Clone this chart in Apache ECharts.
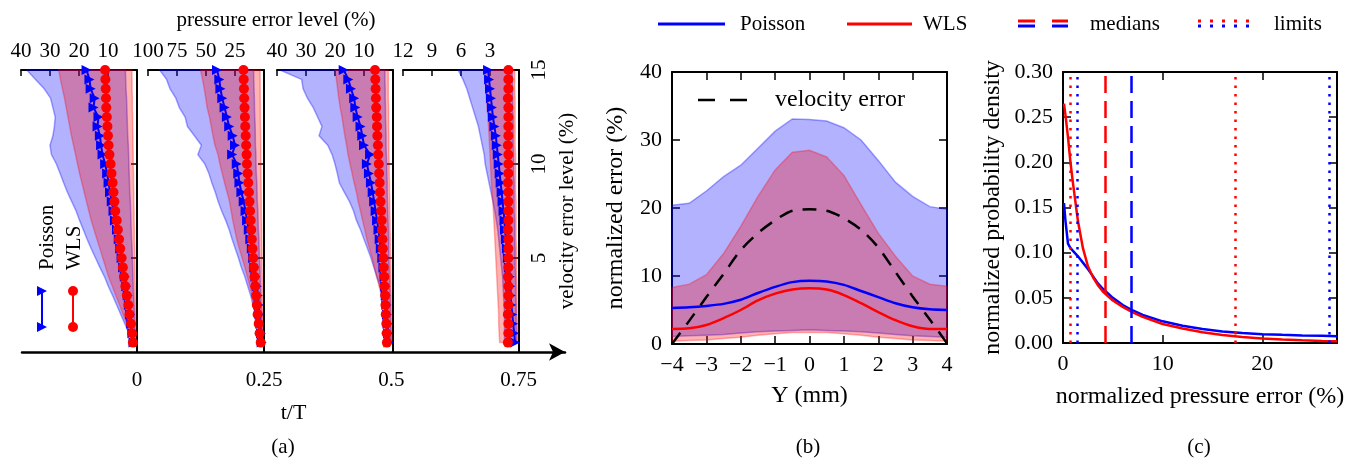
<!DOCTYPE html>
<html><head><meta charset="utf-8">
<script src="https://cdn.jsdelivr.net/npm/echarts@6/dist/echarts.min.js"></script>
<style>html,body{margin:0;padding:0;background:#fff}#chart{width:1365px;height:462px}</style>
</head><body><div id="chart"></div>
<script>
// ---------------- DATA ----------------
// panel (a): velocity error levels (%)
const velLevels = [0.5,1,1.5,2,2.5,3,3.5,4,4.5,5,5.5,6,6.5,7,7.5,8,8.5,9,9.5,10,10.5,11,11.5,12,12.5,13,13.5,14,14.5,15];
const tTicks = [0, 0.25, 0.5, 0.75];
const velTicks = [5, 10, 15];
const pressureMax = [40, 100, 40, 12];
const pressureStep = [10, 25, 10, 3];

// t/T = 0
const a1PoissonHigh = [1.3,2.8,4.2,5.6,7.0,8.4,9.9,11.2,12.8,14.3,15.8,17.2,18.5,19.8,21.0,22.5,24.0,25.3,26.5,27.8,29.5,30.0,29.0,28.5,28.2,29.0,29.8,32.0,35.0,38.0];
const a1PoissonLow  = [0.6,0.7,0.8,0.9,1.0,1.2,1.3,1.4,1.5,1.6,1.7,1.9,2.0,2.1,2.2,2.3,2.5,2.6,2.7,2.8,2.9,3.0,3.2,3.3,3.4,3.5,3.6,3.8,3.9,4.0];
const a1WlsHigh     = [1.3,2.5,3.6,4.8,6.0,7.3,8.5,9.8,10.8,11.8,12.8,13.8,14.8,15.8,16.6,17.4,18.2,19.0,19.8,20.5,21.2,21.9,22.6,23.2,23.8,24.4,25.0,25.7,26.4,27.0];
const a1WlsLow      = [0.3,0.4,0.4,0.5,0.5,0.6,0.6,0.7,0.7,0.8,0.8,0.9,0.9,1.0,1.0,1.1,1.1,1.2,1.2,1.3,1.3,1.4,1.4,1.5,1.5,1.6,1.6,1.7,1.7,1.8];
const a1PoissonMed  = [1.2,1.6,2.0,2.4,2.8,3.2,3.7,4.2,4.8,5.3,5.8,6.3,6.9,7.6,8.1,8.7,9.3,9.8,10.3,11.0,11.9,12.4,12.8,13.6,13.3,15.0,14.6,16.0,16.4,17.4];
const a1WlsMed      = [1.4,1.7,2.1,2.6,3.0,3.5,4.0,4.5,4.9,5.3,5.8,6.2,6.6,7.0,7.5,7.8,8.1,8.4,8.8,9.1,9.5,9.8,10.0,10.2,10.4,10.6,10.7,10.8,10.9,11.0];
// t/T = 0.25
const a2PoissonHigh = [2.0,3.5,5.5,7.5,9.5,11.5,14.0,16.5,19.5,22.0,24.8,27.5,30.0,33.0,36.5,39.5,42.0,45.0,47.5,51.0,57.0,54.0,60.0,66.0,68.0,73.0,76.0,81.0,84.0,90.0];
const a2PoissonLow  = [1.2,1.4,1.8,2.0,2.5,2.7,3.1,3.3,3.5,4.0,4.2,4.4,4.9,5.1,5.3,5.8,6.0,6.2,6.7,6.9,7.0,7.4,7.5,7.6,8.0,8.2,8.3,8.6,8.8,9.0];
const a2WlsHigh     = [2.2,3.7,5.5,6.8,8.5,10.2,12.2,14.3,16.5,18.8,21.3,23.4,25.2,26.9,28.3,29.7,31.8,34.0,36.0,38.0,39.6,42.3,44.0,45.5,47.0,49.0,50.2,51.5,53.0,54.7];
const a2WlsLow      = [0.8,0.9,1.1,1.1,1.2,1.4,1.4,1.5,1.7,1.7,1.8,2.0,2.0,2.1,2.3,2.3,2.4,2.5,2.6,2.7,2.8,2.8,2.9,3.0,3.1,3.1,3.2,3.3,3.3,3.4];
const a2PoissonMed  = [2.0,2.6,3.2,3.9,4.5,5.2,6.2,7.4,8.4,9.4,10.5,11.8,13.1,14.6,15.9,17.5,19.5,21.2,22.2,23.5,27.5,25.0,27.0,30.0,32.0,34.0,36.0,37.6,38.5,40.5];
const a2WlsMed      = [2.8,3.8,4.6,5.5,6.2,6.8,7.5,8.2,8.8,9.3,9.9,10.5,11.0,11.5,12.0,12.5,13.0,13.6,14.1,14.7,15.0,15.4,15.8,16.2,16.5,16.8,17.1,17.3,17.5,17.7];
// t/T = 0.5
const a3PoissonHigh = [1.0,1.4,1.9,2.5,3.0,3.6,4.5,5.6,6.6,7.6,8.8,10.0,11.2,12.6,13.6,15.0,16.8,18.5,19.2,20.0,21.0,22.5,25.5,24.5,26.0,27.5,29.5,31.0,31.5,39.0];
const a3PoissonLow  = [0.6,0.7,0.8,0.9,0.9,1.0,1.1,1.2,1.3,1.4,1.5,1.5,1.6,1.7,1.8,1.9,2.0,2.0,2.1,2.2,2.3,2.4,2.4,2.5,2.6,2.6,2.7,2.7,2.8,2.8];
const a3WlsHigh     = [1.0,1.5,2.2,2.7,3.4,4.0,4.8,5.6,6.4,7.2,8.1,9.0,9.7,10.5,11.2,12.0,12.6,13.4,14.1,14.8,15.5,16.0,16.6,17.1,17.6,18.2,18.7,19.1,19.5,20.0];
const a3WlsLow      = [0.4,0.4,0.5,0.5,0.6,0.6,0.7,0.7,0.8,0.8,0.9,0.9,1.0,1.0,1.1,1.1,1.2,1.2,1.3,1.3,1.4,1.4,1.4,1.5,1.5,1.5,1.6,1.6,1.6,1.6];
const a3PoissonMed  = [1.5,1.7,1.9,2.1,2.3,2.5,2.7,2.9,3.3,3.7,4.2,4.6,5.0,5.5,6.0,6.5,7.0,7.6,8.3,9.0,7.9,10.0,10.6,11.2,12.2,13.0,13.4,14.5,15.4,17.0];
const a3WlsMed      = [2.1,2.2,2.3,2.5,2.6,2.7,2.9,3.0,3.2,3.3,3.5,3.6,3.8,3.9,4.1,4.3,4.5,4.6,4.8,4.9,5.1,5.2,5.4,5.5,5.6,5.8,5.9,6.0,6.1,6.2];
// t/T = 0.75
const a4PoissonHigh = [1.5,1.5,1.5,1.5,1.55,1.6,1.65,1.7,1.8,1.9,2.0,2.1,2.2,2.35,2.5,2.7,2.9,3.1,3.3,3.5,3.6,3.8,4.0,4.2,4.5,4.8,5.1,5.4,5.8,6.3];
const a4PoissonLow  = [0.25,0.25,0.3,0.3,0.3,0.35,0.35,0.35,0.4,0.4,0.4,0.45,0.45,0.45,0.5,0.5,0.5,0.5,0.55,0.55,0.55,0.6,0.6,0.6,0.6,0.65,0.65,0.65,0.7,0.7];
const a4WlsHigh     = [2.0,2.05,2.1,2.1,2.15,2.2,2.25,2.3,2.35,2.4,2.45,2.5,2.55,2.6,2.65,2.7,2.8,2.85,2.9,2.95,3.0,3.05,3.1,3.15,3.2,3.3,3.35,3.4,3.45,3.5];
const a4WlsLow      = [0.15,0.15,0.15,0.2,0.2,0.2,0.2,0.25,0.25,0.25,0.25,0.3,0.3,0.3,0.3,0.3,0.35,0.35,0.35,0.35,0.35,0.4,0.4,0.4,0.4,0.4,0.4,0.45,0.45,0.45];
const a4PoissonMed  = [0.4,0.5,0.6,0.7,0.8,0.85,0.9,0.95,1.05,1.15,1.25,1.35,1.45,1.5,1.6,1.7,1.8,1.9,2.0,2.1,2.2,2.3,2.4,2.55,2.7,2.8,2.9,3.0,3.1,3.2];
const a4WlsMed      = [1.15,1.1,1.1,1.15,1.1,1.1,1.1,1.15,1.1,1.1,1.1,1.1,1.15,1.1,1.1,1.1,1.1,1.15,1.1,1.1,1.1,1.15,1.1,1.1,1.1,1.1,1.15,1.1,1.1,1.1];

// panel (b)
const bY            = [-4,-3.5,-3,-2.5,-2,-1.5,-1,-0.5,0,0.5,1,1.5,2,2.5,3,3.5,4];
const bPoissonHigh  = [20.4,20.7,22.5,24.6,26.3,28.8,31.3,33.1,33.0,32.8,31.8,30.0,27.0,23.8,21.7,20.2,19.8];
const bPoissonLow   = [1.1,1.2,1.3,1.4,1.6,1.8,1.9,2.0,2.1,2.0,1.9,1.8,1.6,1.4,1.2,1.1,1.0];
const bWlsHigh      = [8.3,8.8,10.2,13.3,17.3,21.7,25.6,28.2,28.5,27.5,24.8,20.5,16.3,12.9,10.0,8.8,8.5];
const bWlsLow       = [0.4,0.5,0.6,0.8,1.0,1.3,1.5,1.7,1.7,1.7,1.5,1.3,1.0,0.8,0.6,0.5,0.4];
const bPoissonMed   = [5.3,5.4,5.6,5.9,6.5,7.5,8.4,9.1,9.3,9.2,8.7,7.8,6.9,6.0,5.4,5.1,5.0];
const bWlsMed       = [2.2,2.3,2.8,3.8,5.0,6.4,7.4,8.0,8.2,8.0,7.2,6.0,4.7,3.5,2.6,2.2,2.2];
const bVelocityErr  = [0.0,3.4,6.9,10.3,13.8,16.3,18.2,19.6,19.8,19.6,18.5,16.8,14.2,10.6,7.0,3.6,0.1];

// panel (c)
const cErr     = [0.1,0.25,0.5,0.75,1,1.5,2,2.5,3,3.5,4,5,6,7,8,10,12,14,16,18,20,22,24,26,27.5];
const cPoisson = [0.155,0.135,0.110,0.105,0.102,0.096,0.089,0.082,0.074,0.066,0.060,0.050,0.042,0.036,0.031,0.024,0.019,0.0155,0.0128,0.0110,0.0097,0.0090,0.0084,0.0079,0.0075];
const cWls     = [0.265,0.252,0.228,0.200,0.177,0.135,0.105,0.085,0.073,0.064,0.057,0.047,0.040,0.034,0.029,0.021,0.016,0.012,0.0088,0.0066,0.0050,0.0038,0.0030,0.0023,0.0018];
const cPoissonMedian = 6.8;
const cWlsMedian = 4.26;
const cPoissonLimits = [1.4, 26.7];
const cWlsLimits = [0.77, 17.3];
const cXTicks = [0, 10, 20];

// ---------------- CHART ----------------
const FONT = '"Liberation Serif", "Times New Roman", serif';
const BLUE = '#0000ff', RED = '#ff0000';
const chart = echarts.init(document.getElementById('chart'));

function band(xs, lows, highs, horizontal, fill, stroke) {
  return function (params, api) {
    const pts = [];
    for (let i = 0; i < xs.length; i++) pts.push(api.coord(horizontal ? [highs[i], xs[i]] : [xs[i], highs[i]]));
    for (let i = xs.length - 1; i >= 0; i--) pts.push(api.coord(horizontal ? [lows[i], xs[i]] : [xs[i], lows[i]]));
    return { type: 'polygon', shape: { points: pts }, style: { fill: fill, stroke: stroke, lineWidth: 1.5 } };
  };
}
const minus = v => (v < 0 ? '\u2212' + Math.abs(v) : String(v));
const axisLineS = { show: true, onZero: false, lineStyle: { color: '#000', width: 2 } };
const tickS = len => ({ show: true, inside: true, length: len, lineStyle: { color: '#000', width: 1.5 } });

const subLeft = [21, 148, 277, 403];
const grids = [], xAxes = [], yAxes = [], series = [];
const aSets = [
  [a1PoissonHigh, a1PoissonLow, a1WlsHigh, a1WlsLow, a1PoissonMed, a1WlsMed],
  [a2PoissonHigh, a2PoissonLow, a2WlsHigh, a2WlsLow, a2PoissonMed, a2WlsMed],
  [a3PoissonHigh, a3PoissonLow, a3WlsHigh, a3WlsLow, a3PoissonMed, a3WlsMed],
  [a4PoissonHigh, a4PoissonLow, a4WlsHigh, a4WlsLow, a4PoissonMed, a4WlsMed]
];
for (let k = 0; k < 4; k++) {
  grids.push({ left: subLeft[k], top: 70, width: 116, height: 282 });
  xAxes.push({
    gridIndex: k, type: 'value', position: 'top', inverse: true, min: 0, max: pressureMax[k], interval: pressureStep[k],
    axisLine: axisLineS, axisTick: tickS(6), splitLine: { show: false },
    axisLabel: { formatter: v => (v === 0 ? '' : String(v)), fontSize: 21, fontFamily: FONT, color: '#000', margin: 8 }
  });
  yAxes.push({
    gridIndex: k, type: 'value', position: 'right', min: 0, max: 15, interval: 5,
    axisLine: axisLineS, axisTick: { show: true, inside: true, length: 6, customValues: velTicks, lineStyle: { color: '#000', width: 1.5 } },
    splitLine: { show: false },
    axisLabel: { show: k === 3, customValues: velTicks, rotate: 90, fontSize: 21, fontFamily: FONT, color: '#000', margin: 10 },
    name: k === 3 ? 'velocity error level (%)' : '', nameLocation: 'middle', nameRotate: 90, nameGap: 38,
    nameTextStyle: { fontSize: 21, fontFamily: FONT, color: '#000' }
  });
  const s = aSets[k];
  series.push({ type: 'custom', xAxisIndex: k, yAxisIndex: k, data: [[0, 0]], silent: true, z: 1,
    renderItem: band(velLevels, s[1], s[0], true, 'rgba(0,0,255,0.30)', 'rgba(0,0,255,0.35)') });
  series.push({ type: 'custom', xAxisIndex: k, yAxisIndex: k, data: [[0, 0]], silent: true, z: 1,
    renderItem: band(velLevels, s[3], s[2], true, 'rgba(255,0,0,0.30)', 'rgba(255,0,0,0.30)') });
  series.push({ type: 'line', xAxisIndex: k, yAxisIndex: k, data: velLevels.map((v, i) => [s[4][i], v]),
    symbol: 'triangle', symbolSize: 10, symbolRotate: -90, lineStyle: { color: BLUE, width: 2 }, itemStyle: { color: BLUE }, z: 3 });
  series.push({ type: 'line', xAxisIndex: k, yAxisIndex: k, data: velLevels.map((v, i) => [s[5][i], v]),
    symbol: 'circle', symbolSize: 10, lineStyle: { color: RED, width: 2 }, itemStyle: { color: RED }, z: 4 });
}
// arrow axis (t/T)
grids.push({ left: 22, top: 351, width: 543, height: 1 });
xAxes.push({
  gridIndex: 4, type: 'value', min: -0.226, max: 0.841, position: 'bottom',
  axisLine: { show: true, onZero: false, symbol: ['none', 'arrow'], symbolSize: [13, 16], lineStyle: { color: '#000', width: 2.5 } },
  axisTick: { show: false }, splitLine: { show: false },
  axisLabel: { customValues: tTicks, formatter: v => String(v), fontSize: 21, fontFamily: FONT, color: '#000', margin: 18 },
  name: 't/T', nameLocation: 'middle', nameGap: 50, nameTextStyle: { fontSize: 22, fontFamily: FONT, color: '#000' }
});
yAxes.push({ gridIndex: 4, show: false, min: 0, max: 1 });

// panel (b)
grids.push({ left: 672, top: 72, width: 275, height: 272 });
xAxes.push({
  gridIndex: 5, type: 'value', min: -4, max: 4, interval: 1, position: 'bottom',
  axisLine: axisLineS, axisTick: tickS(8), splitLine: { show: false },
  axisLabel: { formatter: minus, fontSize: 22, fontFamily: FONT, color: '#000', margin: 10 },
  name: 'Y (mm)', nameLocation: 'middle', nameGap: 40, nameTextStyle: { fontSize: 24, fontFamily: FONT, color: '#000' }
});
xAxes.push({ gridIndex: 5, type: 'value', min: -4, max: 4, interval: 1, position: 'top',
  axisLine: axisLineS, axisTick: tickS(8), splitLine: { show: false }, axisLabel: { show: false } });
yAxes.push({
  gridIndex: 5, type: 'value', min: 0, max: 40, interval: 10, position: 'left',
  axisLine: axisLineS, axisTick: tickS(8), splitLine: { show: false },
  axisLabel: { fontSize: 22, fontFamily: FONT, color: '#000', margin: 10 },
  name: 'normalized error (%)', nameLocation: 'middle', nameGap: 44, nameRotate: 90,
  nameTextStyle: { fontSize: 24, fontFamily: FONT, color: '#000' }
});
yAxes.push({ gridIndex: 5, type: 'value', min: 0, max: 40, interval: 10, position: 'right',
  axisLine: axisLineS, axisTick: tickS(8), splitLine: { show: false }, axisLabel: { show: false } });
series.push({ type: 'custom', xAxisIndex: 5, yAxisIndex: 5, data: [[0, 0]], silent: true, z: 1,
  renderItem: band(bY, bPoissonLow, bPoissonHigh, false, 'rgba(0,0,255,0.30)', 'rgba(0,0,255,0.35)') });
series.push({ type: 'custom', xAxisIndex: 5, yAxisIndex: 5, data: [[0, 0]], silent: true, z: 1,
  renderItem: band(bY, bWlsLow, bWlsHigh, false, 'rgba(255,0,0,0.30)', 'rgba(255,0,0,0.30)') });
series.push({ type: 'line', xAxisIndex: 5, yAxisIndex: 5, data: bY.map((y, i) => [y, bPoissonMed[i]]),
  smooth: 0.3, symbol: 'none', lineStyle: { color: BLUE, width: 2.5 }, z: 3 });
series.push({ type: 'line', xAxisIndex: 5, yAxisIndex: 5, data: bY.map((y, i) => [y, bWlsMed[i]]),
  smooth: 0.3, symbol: 'none', lineStyle: { color: RED, width: 2.5 }, z: 3 });
series.push({ type: 'line', name: 'velocity error', xAxisIndex: 5, yAxisIndex: 5, data: bY.map((y, i) => [y, bVelocityErr[i]]),
  smooth: 0.3, symbol: 'none', lineStyle: { color: '#000', width: 2.5, type: [14, 10] }, z: 4 });

// panel (c)
grids.push({ left: 1063, top: 72, width: 274, height: 271 });
xAxes.push({
  gridIndex: 6, type: 'value', min: 0, max: 27.5, position: 'bottom',
  axisLine: axisLineS, axisTick: { show: true, inside: true, length: 8, customValues: cXTicks, lineStyle: { color: '#000', width: 1.5 } },
  splitLine: { show: false },
  axisLabel: { customValues: cXTicks, fontSize: 22, fontFamily: FONT, color: '#000', margin: 10 },
  name: 'normalized pressure error (%)', nameLocation: 'middle', nameGap: 42,
  nameTextStyle: { fontSize: 24, fontFamily: FONT, color: '#000' }
});
xAxes.push({ gridIndex: 6, type: 'value', min: 0, max: 27.5, position: 'top',
  axisLine: axisLineS, axisTick: { show: true, inside: true, length: 8, customValues: cXTicks, lineStyle: { color: '#000', width: 1.5 } },
  splitLine: { show: false }, axisLabel: { show: false } });
yAxes.push({
  gridIndex: 6, type: 'value', min: 0, max: 0.3, interval: 0.05, position: 'left',
  axisLine: axisLineS, axisTick: tickS(8), splitLine: { show: false },
  axisLabel: { formatter: v => v.toFixed(2), fontSize: 22, fontFamily: FONT, color: '#000', margin: 10 },
  name: 'normalized probability density', nameLocation: 'middle', nameGap: 58, nameRotate: 90,
  nameTextStyle: { fontSize: 24, fontFamily: FONT, color: '#000' }
});
yAxes.push({ gridIndex: 6, type: 'value', min: 0, max: 0.3, interval: 0.05, position: 'right',
  axisLine: axisLineS, axisTick: tickS(8), splitLine: { show: false }, axisLabel: { show: false } });
const dashed = c => ({ color: c, width: 2.5, type: [17, 8] });
const dotted = c => ({ color: c, width: 2.5, type: [2.5, 6] });
series.push({ type: 'line', xAxisIndex: 7, yAxisIndex: 7, data: cErr.map((x, i) => [x, cPoisson[i]]),
  symbol: 'none', lineStyle: { color: BLUE, width: 2.5 }, z: 3,
  markLine: { silent: true, symbol: ['none', 'none'], label: { show: false },
    data: [{ xAxis: cPoissonMedian, lineStyle: dashed(BLUE) }, { xAxis: cPoissonLimits[0], lineStyle: dotted(BLUE) }, { xAxis: cPoissonLimits[1], lineStyle: dotted(BLUE) }] } });
series.push({ type: 'line', xAxisIndex: 7, yAxisIndex: 7, data: cErr.map((x, i) => [x, cWls[i]]),
  symbol: 'none', lineStyle: { color: RED, width: 2.5 }, z: 3,
  markLine: { silent: true, symbol: ['none', 'none'], label: { show: false },
    data: [{ xAxis: cWlsMedian, lineStyle: dashed(RED) }, { xAxis: cWlsLimits[0], lineStyle: dotted(RED) }, { xAxis: cWlsLimits[1], lineStyle: dotted(RED) }] } });

// ---------------- TEXT / LEGENDS ----------------
function txt(x, y, s, size, opts) {
  return Object.assign({ type: 'text', x: x, y: y, silent: true,
    style: Object.assign({ text: s, font: size + 'px ' + FONT, fill: '#000', align: 'center', verticalAlign: 'middle',
      textAlign: 'center', textVerticalAlign: 'middle' }, (opts && opts.style) || {}) }, (opts && opts.el) || {});
}
function ln(x1, y1, x2, y2, color, w, dash) {
  return { type: 'line', silent: true, shape: { x1, y1, x2, y2 }, style: { stroke: color, lineWidth: w, lineDash: dash || null } };
}
const graphics = [
  txt(276, 20, 'pressure error level (%)', 21),
  txt(283, 447, '(a)', 21), txt(808, 447, '(b)', 21), txt(1199, 447, '(c)', 21),
  // panel (a) inner legend
  txt(47, 270, 'Poisson', 21, { style: { align: 'left', textAlign: 'left' }, el: { rotation: Math.PI / 2 } }),
  txt(74, 270, 'WLS', 21, { style: { align: 'left', textAlign: 'left' }, el: { rotation: Math.PI / 2 } }),
  ln(42, 291, 42, 327, BLUE, 2), ln(73, 291, 73, 327, RED, 2),
  { type: 'polygon', silent: true, shape: { points: [[37, 286], [47, 291], [37, 296]] }, style: { fill: BLUE } },
  { type: 'polygon', silent: true, shape: { points: [[37, 322], [47, 327], [37, 332]] }, style: { fill: BLUE } },
  { type: 'circle', silent: true, shape: { cx: 73, cy: 291, r: 5 }, style: { fill: RED } },
  { type: 'circle', silent: true, shape: { cx: 73, cy: 327, r: 5 }, style: { fill: RED } },
  // panel (b) legend
  ln(698, 100, 748, 100, '#000', 2.5, [17, 15]),
  txt(775, 100, 'velocity error', 24, { style: { align: 'left', textAlign: 'left' } }),
  // top legend
  ln(658, 24, 725, 24, BLUE, 3), txt(740, 24, 'Poisson', 21, { style: { align: 'left', textAlign: 'left' } }),
  ln(847, 24, 912, 24, RED, 3), txt(923, 24, 'WLS', 21, { style: { align: 'left', textAlign: 'left' } }),
  ln(1018, 21, 1035, 21, RED, 3), ln(1018, 26, 1035, 26, BLUE, 3),
  ln(1052, 21, 1068, 21, RED, 3), ln(1052, 26, 1068, 26, BLUE, 3),
  txt(1090, 24, 'medians', 21, { style: { align: 'left', textAlign: 'left' } }),
  ln(1198, 21, 1258, 21, RED, 3, [3, 9]), ln(1198, 26, 1258, 26, BLUE, 3, [3, 9]),
  txt(1274, 24, 'limits', 21, { style: { align: 'left', textAlign: 'left' } })
];

chart.setOption({
  animation: false,
  backgroundColor: '#fff',
  textStyle: { fontFamily: FONT },
  grid: grids, xAxis: xAxes, yAxis: yAxes, series: series,
  graphic: { elements: graphics }
});
</script></body></html>
